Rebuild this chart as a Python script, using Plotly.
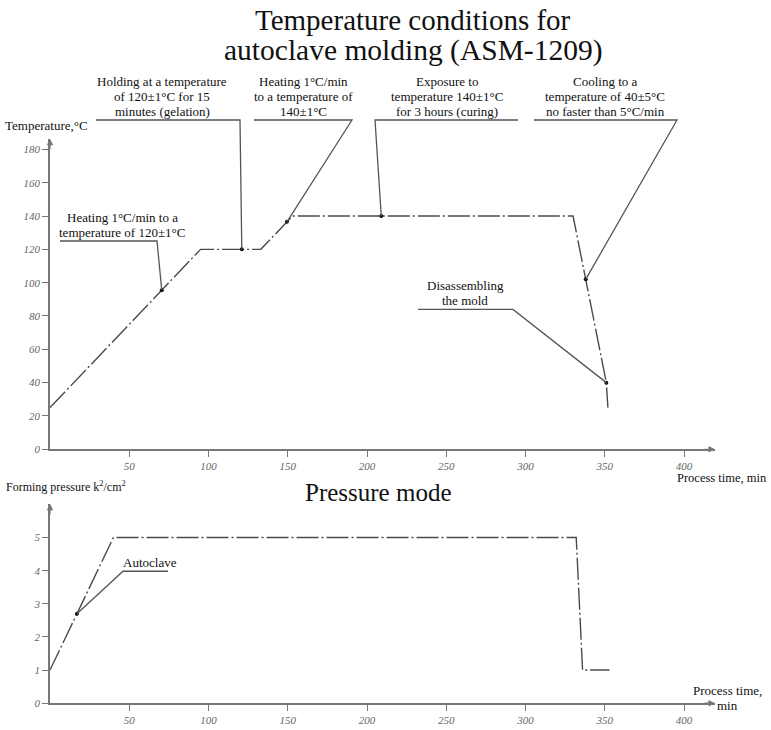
import plotly.graph_objects as go

# ---------------- data ----------------
temp_time = [0, 95, 133, 153, 330, 351, 352]
temp_vals = [25, 120, 120, 140, 140, 40, 25]
pres_time = [0, 40, 332, 336, 353]
pres_vals = [1, 5, 5, 1, 1]

temp_ticks = [0, 20, 40, 60, 80, 100, 120, 140, 160, 180]
pres_ticks = [0, 1, 2, 3, 4, 5]
time_ticks = [50, 100, 150, 200, 250, 300, 350, 400]

# points marked on the curves (time, value)
temp_mark_time = [70.5, 121, 149.5, 209, 338, 351]
temp_mark_vals = [95.5, 120, 136.5, 140, 102, 40]
pres_mark_time = [17]
pres_mark_vals = [2.7]

temp_labels = [
    ["Heating 1°C/min to a", "temperature of 120±1°C"],
    ["Holding at a temperature", "of 120±1°C for 15", "minutes (gelation)"],
    ["Heating 1°C/min", "to a temperature of", "140±1°C"],
    ["Exposure to", "temperature 140±1°C", "for 3 hours (curing)"],
    ["Cooling to a", "temperature of 40±5°C", "no faster than 5°C/min"],
    ["Disassembling", "the mold"],
]
pres_labels = [["Autoclave"]]

# ---------------- geometry ----------------
W, H = 771, 730
X0 = 50           # px of time 0
XR = 715          # px of axis arrow tip
SX = 1.585        # px per minute
XMAX = (XR - X0) / SX

T_Y0, T_TOP = 453, 140     # top chart: px of 0 °C, axis tip
TS = 1.68                  # px per °C
P_Y0, P_TOP = 709, 508     # bottom chart
PS = 33.4                  # px per unit pressure

def xpx(t):
    return X0 + t * SX

def tpy(v):
    return T_Y0 - v * TS

def ppy(v):
    return P_Y0 - v * PS

def px(x):
    return x / W

def py(y):
    return 1 - y / H

SERIF = "Liberation Serif, Times New Roman, serif"
LINE = dict(color="#4a4a4a", width=1.4, dash="22px,3px,2px,3px")
TICKFONT = dict(family=SERIF, size=11, color="#666", style="italic")
TXT = dict(family=SERIF, size=13, color="#111")

fig = go.Figure()
fig.add_trace(go.Scatter(x=temp_time, y=temp_vals, mode="lines", line=LINE,
                         xaxis="x", yaxis="y", showlegend=False, hoverinfo="skip"))
fig.add_trace(go.Scatter(x=temp_mark_time, y=temp_mark_vals, mode="markers",
                         marker=dict(color="#111", size=4), xaxis="x", yaxis="y",
                         showlegend=False, hoverinfo="skip"))
fig.add_trace(go.Scatter(x=pres_time, y=pres_vals, mode="lines", line=LINE,
                         xaxis="x2", yaxis="y2", showlegend=False, hoverinfo="skip"))
fig.add_trace(go.Scatter(x=pres_mark_time, y=pres_mark_vals, mode="markers",
                         marker=dict(color="#111", size=4), xaxis="x2", yaxis="y2",
                         showlegend=False, hoverinfo="skip"))

axis_common = dict(showgrid=False, zeroline=False, showline=True, linecolor="#777",
                   linewidth=1.5, ticks="outside", tickcolor="#777", ticklen=6,
                   tickwidth=1.2, tickfont=TICKFONT, fixedrange=True)

fig.update_layout(
    width=W, height=H, margin=dict(l=0, r=0, t=0, b=0),
    paper_bgcolor="white", plot_bgcolor="white",
    xaxis=dict(domain=[px(X0), px(XR)], range=[0, XMAX], anchor="y",
               tickvals=time_ticks, **axis_common),
    yaxis=dict(domain=[py(T_Y0), py(T_TOP)], range=[0, (T_Y0 - T_TOP) / TS], anchor="x",
               tickvals=temp_ticks, **axis_common),
    xaxis2=dict(domain=[px(X0), px(XR)], range=[0, XMAX], anchor="y2",
                tickvals=time_ticks, **axis_common),
    yaxis2=dict(domain=[py(P_Y0), py(P_TOP)], range=[0, (P_Y0 - P_TOP) / PS], anchor="x2",
                tickvals=pres_ticks, **axis_common),
)

shapes = []
annotations = []

# label layout: (center_x_px, underline_y_px, underline_x0, underline_x1, leader end side)
temp_label_geom = [
    (122, 243, 60, 157, "r"),
    (162, 121, 96, 240, "r"),
    (303, 121, 254, 352, "r"),
    (447, 121, 375, 518, "l"),
    (605, 121, 534, 677, "r"),
    (465, 312, 418, 513, "r"),
]
pres_label_geom = [(150, 576, 123, 168, "l")]
LINE_GAP = 15

def add_label(lines, geom, mx, my):
    cx, uy, ux0, ux1, side = geom
    sx = ux1 if side == "r" else ux0
    ox = ux0 if side == "r" else ux1
    path = "M {:.5f},{:.5f} L {:.5f},{:.5f} L {:.5f},{:.5f}".format(
        px(ox), py(uy), px(sx), py(uy), px(mx), py(my))
    shapes.append(dict(type="path", xref="paper", yref="paper", path=path,
                       line=dict(color="#555", width=1.3)))
    n = len(lines)
    for i, s in enumerate(lines):
        yc = uy - 9 - (n - 1 - i) * LINE_GAP
        annotations.append(dict(text=s, x=px(cx), y=py(yc), xref="paper", yref="paper",
                                xanchor="center", yanchor="middle", showarrow=False,
                                font=TXT))

for txt, g, t, v in zip(temp_labels, temp_label_geom, temp_mark_time, temp_mark_vals):
    add_label(txt, g, xpx(t), tpy(v))
for txt, g, t, v in zip(pres_labels, pres_label_geom, pres_mark_time, pres_mark_vals):
    add_label(txt, g, xpx(t), ppy(v))

# axis arrowheads
for (x, y, ax, ay) in [(XR, T_Y0, -12, 0), (X0, T_TOP, 0, 12),
                       (XR, P_Y0, -12, 0), (X0, P_TOP, 0, 12)]:
    annotations.append(dict(x=px(x), y=py(y), xref="paper", yref="paper", ax=ax, ay=ay,
                            text="", showarrow=True, arrowhead=2, arrowsize=1,
                            arrowwidth=1.3, arrowcolor="#777", standoff=0))

# titles and axis labels
annotations += [
    dict(text="Temperature conditions for", x=px(413), y=py(20), xref="paper", yref="paper",
         xanchor="center", yanchor="middle", showarrow=False,
         font=dict(family=SERIF, size=29, color="#111")),
    dict(text="autoclave molding (ASM-1209)", x=px(413), y=py(51), xref="paper", yref="paper",
         xanchor="center", yanchor="middle", showarrow=False,
         font=dict(family=SERIF, size=29.5, color="#111")),
    dict(text="Pressure mode", x=px(378), y=py(497), xref="paper", yref="paper",
         xanchor="center", yanchor="middle", showarrow=False,
         font=dict(family=SERIF, size=25, color="#111")),
    dict(text="Temperature,°C", x=px(3), y=py(127), xref="paper", yref="paper",
         xanchor="left", yanchor="middle", showarrow=False, font=TXT),
    dict(text="Forming pressure k<sup>2</sup>/cm<sup>2</sup>", x=px(4), y=py(491),
         xref="paper", yref="paper", xanchor="left", yanchor="middle", showarrow=False,
         font=dict(family=SERIF, size=12, color="#111")),
    dict(text="Process time, min", x=px(769), y=py(482), xref="paper", yref="paper",
         xanchor="right", yanchor="middle", showarrow=False,
         font=dict(family=SERIF, size=12.5, color="#111")),
    dict(text="Process time,", x=px(727), y=py(696), xref="paper", yref="paper",
         xanchor="center", yanchor="middle", showarrow=False, font=TXT),
    dict(text="min", x=px(727), y=py(711), xref="paper", yref="paper",
         xanchor="center", yanchor="middle", showarrow=False, font=TXT),
]

fig.update_layout(shapes=shapes, annotations=annotations)
fig.write_html("out.html")
